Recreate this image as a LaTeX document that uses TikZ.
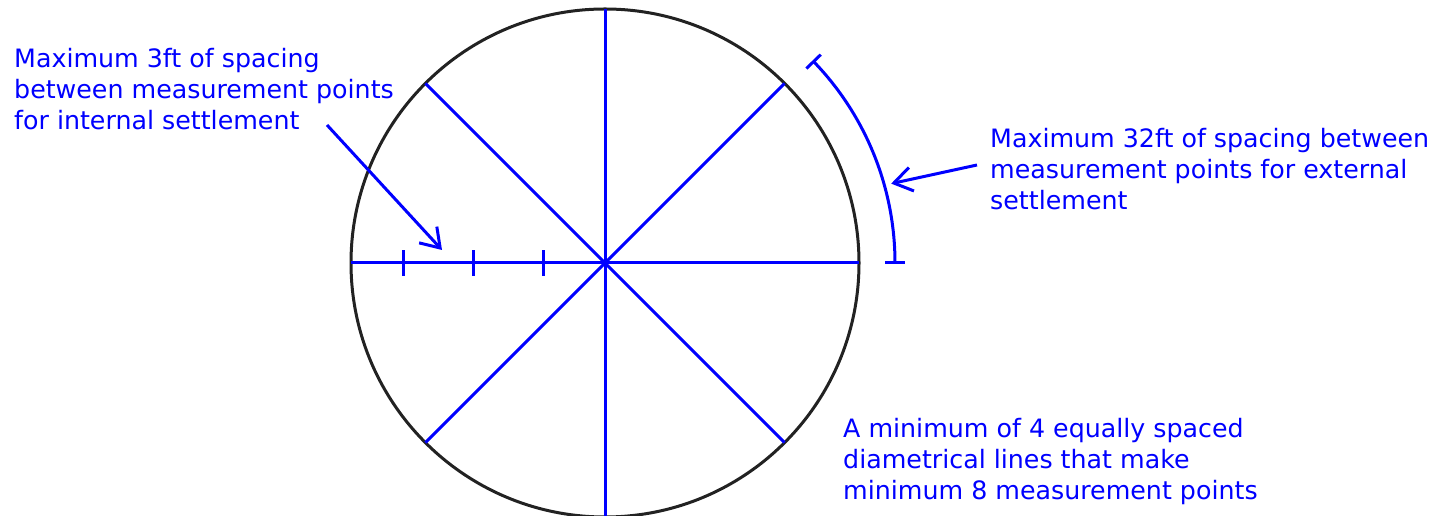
\documentclass[tikz,border=0pt]{standalone}
\usepackage{fontspec}
\setmainfont{DejaVu Sans}
\usetikzlibrary{arrows.meta,calc}
\definecolor{rim}{RGB}{34,34,34}
\definecolor{lineblue}{RGB}{0,0,255}
\tikzset{
  rimline/.style={draw=rim,line width=3pt},
  bluel/.style={draw=lineblue,line width=3pt},
  pointer/.style={draw=lineblue,line width=3pt,-{Straight Barb[length=18pt,width=24pt,line width=3pt]}},
  note/.style={text=lineblue,font=\fontsize{25.3}{31}\selectfont,align=left,inner sep=0pt,anchor=base west}
}
\begin{document}
\begin{tikzpicture}[x=1pt,y=1pt]
\useasboundingbox (0,0) rectangle (1436,516);
\coordinate (C) at (605,253);
\foreach \a in {0,45,...,315}{\coordinate (p\a) at ($(C)+(\a:254)$);}
% circle
\draw[rimline] (C) circle[radius=254];
% diameters
\draw[bluel] (p0) -- (p180);
\draw[bluel] (p90) -- (p270);
\draw[bluel] (p45) -- (p225);
\draw[bluel] (p135) -- (p315);
% ticks on left radius
\foreach \x in {403,473,543}{\draw[bluel] (\x,240) -- (\x,266);}
% outer arc with end ticks
\coordinate (a0) at ($(C)+(0:290)$);
\coordinate (a1) at ($(C)+(44:290)$);
\draw[bluel] (a0) arc[start angle=0,end angle=44,radius=290];
\draw[bluel] ($(C)+(0:280)$) -- ($(C)+(0:300)$);
\draw[bluel] ($(C)+(44:280)$) -- ($(C)+(44:300)$);
% texts (anchor = baseline of last line)
\node[note] (tl) at (14,386) {Maximum 3ft of spacing\\between measurement points\\for internal settlement};
\node[note] (tr) at (990,306) {Maximum 32ft of spacing between\\measurement points for external\\settlement};
\node[note] (tb) at (843,16) {A minimum of 4 equally spaced\\diametrical lines that make\\minimum 8 measurement points};
% pointers
\coordinate (ls) at (327,391);
\coordinate (lt) at (442,266);
\draw[pointer] (ls) -- (lt);
\coordinate (rs) at (977,351);
\coordinate (rt) at ($(C)+(15.5:297)$);
\draw[pointer] (rs) -- (rt);
\end{tikzpicture}
\end{document}
